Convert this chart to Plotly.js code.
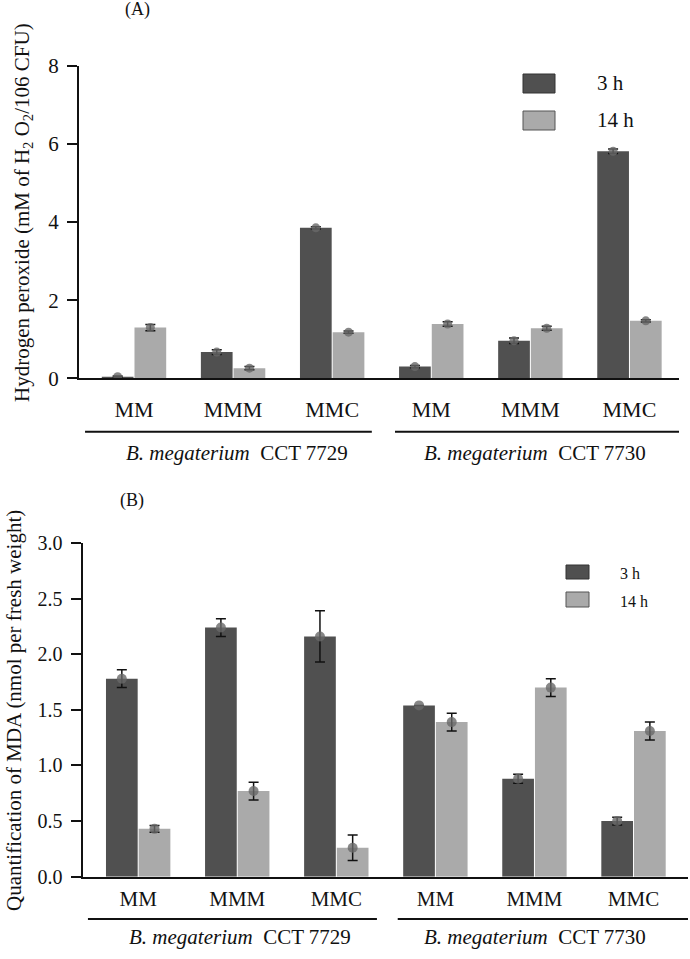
<!DOCTYPE html>
<html>
<head>
<meta charset="utf-8">
<script src="https://cdn.plot.ly/plotly-3.0.1.min.js"></script>
<style>
  body { margin: 0; background: #fff; }
  #myDiv { width: 690px; height: 959px; }
</style>
</head>
<body>
<div id="myDiv"></div>
<script>
// categories and group labels
var treatments = ['MM', 'MMM', 'MMC', 'MM', 'MMM', 'MMC'];
var strains = ['<i>B. megaterium</i>&nbsp; CCT 7729', '<i>B. megaterium</i>&nbsp; CCT 7730'];
var seriesNames = ['3 h', '14 h'];

// (A) hydrogen peroxide
var h2o2_3h = [0.04, 0.67, 3.85, 0.30, 0.96, 5.81];
var h2o2_3h_err = [0.02, 0.06, 0.03, 0.03, 0.07, 0.06];
var h2o2_14h = [1.30, 0.26, 1.18, 1.39, 1.28, 1.47];
var h2o2_14h_err = [0.08, 0.04, 0.03, 0.06, 0.05, 0.03];

// (B) MDA
var mda_3h = [1.78, 2.24, 2.16, 1.54, 0.88, 0.50];
var mda_3h_err = [0.08, 0.08, 0.23, 0, 0.04, 0.035];
var mda_14h = [0.43, 0.77, 0.26, 1.39, 1.70, 1.31];
var mda_14h_err = [0.03, 0.08, 0.115, 0.08, 0.08, 0.08];

var yTicksA = [0, 2, 4, 6, 8];
var yTicksB = [0, 0.5, 1.0, 1.5, 2.0, 2.5, 3.0];

var darkGray = '#505050';
var lightGray = '#aaaaaa';
var dotColor = 'rgba(105,105,105,0.8)';
var serif = 'Liberation Serif';

var W = 690, H = 959;
function px(x) { return x / W; }
function py(y) { return 1 - y / H; }
function f(size) { return { family: serif, size: size, color: '#111' }; }

var idx = treatments.map(function (d, i) { return i; });
var barW = 0.32;

function barTrace(y, color, xa, ya, left) {
  return {
    type: 'bar', x: idx, y: y,
    width: barW, offset: left ? -barW - 0.005 : 0.005,
    marker: { color: color, line: { width: 0 } },
    xaxis: xa, yaxis: ya, showlegend: false, hoverinfo: 'y'
  };
}

function dotTrace(y, err, xa, ya, left, size) {
  var shift = left ? -(barW / 2 + 0.005) : (barW / 2 + 0.005);
  return {
    type: 'scatter', mode: 'markers',
    x: idx.map(function (i) { return i + shift; }), y: y,
    marker: { color: dotColor, size: size },
    error_y: { type: 'data', array: err, visible: true, color: '#111', thickness: 1.5, width: 5 },
    xaxis: xa, yaxis: ya, showlegend: false, hoverinfo: 'y'
  };
}

var data = [
  barTrace(h2o2_3h, darkGray, 'x', 'y', true),
  barTrace(h2o2_14h, lightGray, 'x', 'y', false),
  dotTrace(h2o2_3h, h2o2_3h_err, 'x', 'y', true, 9),
  dotTrace(h2o2_14h, h2o2_14h_err, 'x', 'y', false, 9),
  barTrace(mda_3h, darkGray, 'x2', 'y2', true),
  barTrace(mda_14h, lightGray, 'x2', 'y2', false),
  dotTrace(mda_3h, mda_3h_err, 'x2', 'y2', true, 10),
  dotTrace(mda_14h, mda_14h_err, 'x2', 'y2', false, 10)
];

var xBase = {
  tickvals: idx, ticktext: treatments, ticks: '',
  showline: true, linewidth: 2, linecolor: '#111',
  showgrid: false, zeroline: false, fixedrange: true,
  tickfont: f(22)
};
var yBase = {
  ticks: 'outside', ticklen: 10, tickwidth: 2, tickcolor: '#111',
  showline: true, linewidth: 2, linecolor: '#111',
  showgrid: false, zeroline: false, fixedrange: true,
  ticklabelstandoff: 4,
  tickfont: f(21)
};

function note(text, xref, x, y, size, xanchor) {
  return {
    text: text, xref: xref, yref: 'paper', x: x, y: y,
    xanchor: xanchor || 'center', yanchor: 'middle',
    showarrow: false, font: f(size)
  };
}

var titleA = note('Hydrogen peroxide (mM of H<sub>2</sub> O<sub>2</sub>/106 CFU)', 'paper', px(23), py(213), 21);
titleA.textangle = -90;
var titleB = note('Quantification of MDA (nmol per fresh weight)', 'paper', px(14), py(711), 21);
titleB.textangle = -90;

var layout = {
  width: W, height: H,
  margin: { l: 0, r: 0, t: 0, b: 0 },
  paper_bgcolor: '#fff', plot_bgcolor: '#fff',
  font: f(18),
  barmode: 'overlay',
  xaxis: Object.assign({}, xBase, {
    domain: [px(79), px(679)], range: [-0.555, 5.5], anchor: 'y', ticklabelstandoff: 10
  }),
  yaxis: Object.assign({}, yBase, {
    domain: [py(378.3), py(65.7)], range: [0, 8], tickvals: yTicksA, anchor: 'x'
  }),
  xaxis2: Object.assign({}, xBase, {
    domain: [px(82.5), px(688)], range: [-0.562, 5.55], anchor: 'y2', ticklabelstandoff: 2,
    tickfont: f(21)
  }),
  yaxis2: Object.assign({}, yBase, {
    domain: [py(876.7), py(543)], range: [0, 3], tickvals: yTicksB, tickformat: '.1f', anchor: 'x2',
    tickfont: f(20)
  }),
  shapes: [
    // strain underlines
    { type: 'line', xref: 'x', yref: 'paper', x0: -0.494, x1: 2.40, y0: py(431.7), y1: py(431.7), line: { color: '#111', width: 2 } },
    { type: 'line', xref: 'x', yref: 'paper', x0: 2.634, x1: 5.54, y0: py(431.7), y1: py(431.7), line: { color: '#111', width: 2 } },
    { type: 'line', xref: 'x2', yref: 'paper', x0: -0.507, x1: 2.41, y0: py(919), y1: py(919), line: { color: '#111', width: 2 } },
    { type: 'line', xref: 'x2', yref: 'paper', x0: 2.62, x1: 5.55, y0: py(919), y1: py(919), line: { color: '#111', width: 2 } },
    // legend swatches
    { type: 'rect', xref: 'paper', yref: 'paper', x0: px(523), x1: px(555), y0: py(93), y1: py(74), fillcolor: darkGray, line: { color: '#333', width: 1 } },
    { type: 'rect', xref: 'paper', yref: 'paper', x0: px(523), x1: px(555), y0: py(130), y1: py(111), fillcolor: lightGray, line: { color: '#555', width: 1 } },
    { type: 'rect', xref: 'paper', yref: 'paper', x0: px(566), x1: px(589), y0: py(579), y1: py(565), fillcolor: darkGray, line: { color: '#333', width: 1 } },
    { type: 'rect', xref: 'paper', yref: 'paper', x0: px(566), x1: px(589), y0: py(607), y1: py(592), fillcolor: lightGray, line: { color: '#555', width: 1 } }
  ],
  annotations: [
    note('(A)', 'paper', px(137), py(10), 18),
    note('(B)', 'paper', px(132), py(500), 18),
    titleA,
    titleB,
    note(strains[0], 'x', 1.04, py(453), 21),
    note(strains[1], 'x', 4.05, py(453), 21),
    note(strains[0], 'x2', 1.03, py(936.7), 21),
    note(strains[1], 'x2', 4.01, py(936.7), 21),
    note(seriesNames[0], 'paper', px(595), py(83), 21, 'left'),
    note(seriesNames[1], 'paper', px(595), py(120), 21, 'left'),
    note(seriesNames[0], 'paper', px(618), py(573), 16, 'left'),
    note(seriesNames[1], 'paper', px(618), py(601), 16, 'left')
  ]
};

Plotly.newPlot('myDiv', data, layout, { displayModeBar: false, staticPlot: true });
</script>
</body>
</html>
